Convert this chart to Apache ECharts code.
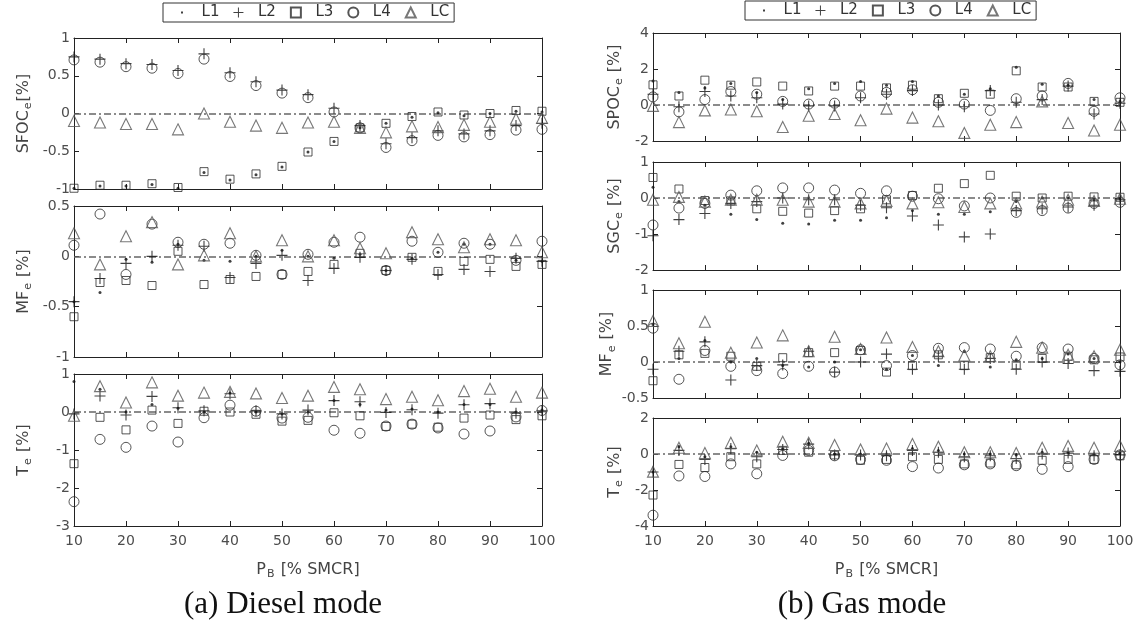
<!DOCTYPE html>
<html>
<head>
<meta charset="utf-8">
<script src="https://cdn.jsdelivr.net/npm/echarts@6/dist/echarts.min.js"></script>
<style>
  html, body { margin: 0; padding: 0; background: #fff; }
  #main { width: 1141px; height: 635px; }
</style>
</head>
<body>
<div id="main"></div>
<script>
// engine load points, % SMCR
var load = [10, 15, 20, 25, 30, 35, 40, 45, 50, 55, 60, 65, 70, 75, 80, 85, 90, 95, 100];

// (a) diesel mode
var sfocL1 = [-0.99, -0.96, -0.96, -0.94, -0.99, -0.78, -0.88, -0.81, -0.71, -0.51, -0.37, -0.19, -0.13, -0.05, 0.01, -0.03, 0.0, 0.03, 0.02];
var sfocL2 = [0.75, 0.72, 0.66, 0.65, 0.57, 0.79, 0.54, 0.42, 0.31, 0.25, 0.07, -0.16, -0.40, -0.32, -0.23, -0.27, -0.23, -0.16, -0.13];
var sfocL3 = [-0.99, -0.95, -0.95, -0.93, -0.98, -0.77, -0.87, -0.80, -0.70, -0.51, -0.37, -0.19, -0.13, -0.04, 0.02, -0.02, 0.0, 0.04, 0.03];
var sfocL4 = [0.71, 0.68, 0.62, 0.60, 0.53, 0.72, 0.49, 0.37, 0.27, 0.21, 0.02, -0.19, -0.45, -0.36, -0.29, -0.31, -0.28, -0.22, -0.21];
var sfocLC = [-0.10, -0.12, -0.14, -0.14, -0.21, 0.0, -0.11, -0.16, -0.19, -0.12, -0.11, -0.19, -0.25, -0.17, -0.18, -0.15, -0.11, -0.07, -0.06];

var mfdL1 = [-0.45, -0.36, -0.03, -0.06, 0.12, -0.04, -0.05, 0.0, 0.06, 0.0, -0.02, 0.02, -0.14, -0.02, 0.04, 0.12, 0.12, -0.04, -0.05];
var mfdL2 = [-0.45, -0.22, -0.07, 0.0, 0.11, 0.10, -0.21, -0.07, 0.01, -0.24, -0.12, -0.01, -0.14, -0.03, -0.18, -0.13, -0.15, -0.02, -0.05];
var mfdL3 = [-0.60, -0.26, -0.24, -0.29, 0.05, -0.28, -0.23, -0.20, -0.18, -0.15, -0.08, 0.03, -0.14, -0.01, -0.15, -0.05, -0.03, -0.10, -0.08];
var mfdL4 = [0.11, 0.42, -0.18, 0.32, 0.14, 0.12, 0.13, 0.01, -0.18, 0.02, 0.14, 0.19, -0.14, 0.15, 0.04, 0.13, 0.12, -0.04, 0.15];
var mfdLC = [0.23, -0.08, 0.20, 0.34, -0.08, 0.01, 0.23, 0.0, 0.16, 0.0, 0.16, 0.08, 0.03, 0.24, 0.17, 0.09, 0.17, 0.16, 0.04];

var tdL1 = [0.8, 0.6, 0.0, 0.2, 0.1, 0.0, 0.5, 0.0, -0.05, 0.0, 0.3, 0.2, 0.05, 0.08, 0.0, 0.2, 0.2, 0.0, 0.05];
var tdL2 = [-0.05, 0.42, -0.08, 0.41, 0.11, 0.03, 0.48, 0.03, -0.05, 0.05, 0.30, 0.27, -0.01, 0.06, -0.03, 0.19, 0.22, -0.03, 0.03];
var tdL3 = [-1.36, -0.14, -0.47, 0.05, -0.30, 0.02, 0.0, -0.06, -0.24, -0.22, -0.02, -0.10, -0.38, -0.32, -0.40, -0.16, -0.08, -0.20, -0.10];
var tdL4 = [-2.36, -0.72, -0.93, -0.37, -0.79, -0.15, 0.18, 0.02, -0.16, -0.14, -0.48, -0.56, -0.37, -0.32, -0.42, -0.58, -0.50, -0.13, 0.04];
var tdLC = [-0.10, 0.68, 0.25, 0.78, 0.43, 0.51, 0.53, 0.49, 0.37, 0.43, 0.66, 0.60, 0.34, 0.40, 0.31, 0.55, 0.61, 0.40, 0.51];

// (b) gas mode
var spocL1 = [1.33, 0.7, 0.95, 1.2, 0.7, 0.3, 0.9, 1.2, 1.3, 1.1, 1.3, 0.5, 0.6, 0.9, 2.1, 1.15, 1.1, 0.3, 0.2];
var spocL2 = [0.6, -0.1, 0.75, 0.5, 0.4, 0.05, -0.05, -0.05, 0.4, 0.6, 0.8, 0.0, -0.1, 0.8, 0.15, 0.3, 1.05, -0.5, 0.1];
var spocL3 = [1.12, 0.5, 1.38, 1.1, 1.28, 1.05, 0.78, 1.05, 1.05, 0.95, 1.1, 0.35, 0.65, 0.6, 1.9, 1.0, 1.0, 0.2, 0.15];
var spocL4 = [0.45, -0.38, 0.3, 0.75, 0.6, 0.2, 0.05, 0.1, 0.5, 0.7, 0.85, 0.15, 0.05, -0.3, 0.35, 0.5, 1.2, -0.35, 0.4];
var spocLC = [-0.05, -0.95, -0.3, -0.25, -0.35, -1.22, -0.6, -0.5, -0.85, -0.2, -0.7, -0.9, -1.55, -1.1, -0.95, 0.2, -1.0, -1.42, -1.1];

var sgcL1 = [0.3, -0.1, -0.2, -0.45, -0.6, -0.7, -0.72, -0.62, -0.62, -0.55, -0.35, -0.45, -0.45, -0.38, -0.1, 0.0, 0.0, -0.05, -0.02];
var sgcL2 = [-1.05, -0.6, -0.43, -0.15, -0.1, 0.0, -0.05, -0.05, -0.2, -0.27, -0.5, -0.75, -1.08, -1.0, -0.35, -0.3, -0.25, -0.2, -0.05];
var sgcL3 = [0.57, 0.25, -0.07, -0.08, -0.3, -0.37, -0.42, -0.35, -0.3, -0.05, 0.07, 0.27, 0.4, 0.63, 0.05, 0.0, 0.05, 0.03, 0.02];
var sgcL4 = [-0.75, -0.28, -0.15, 0.08, 0.2, 0.28, 0.28, 0.22, 0.13, 0.2, 0.05, -0.02, -0.22, 0.0, -0.4, -0.35, -0.28, -0.15, -0.12];
var sgcLC = [-0.05, 0.03, -0.1, -0.05, -0.05, -0.05, -0.1, -0.1, -0.15, -0.08, -0.15, -0.12, -0.25, -0.15, -0.15, -0.1, -0.05, -0.08, -0.02];

var mfgL1 = [0.52, 0.05, 0.3, 0.0, 0.05, -0.05, -0.07, 0.0, 0.17, -0.1, 0.09, -0.05, 0.15, -0.07, 0.03, 0.05, 0.11, 0.05, 0.0];
var mfgL2 = [-0.1, 0.15, 0.28, -0.25, -0.05, -0.04, 0.15, -0.14, 0.0, 0.11, -0.1, 0.08, -0.1, 0.05, -0.1, 0.0, -0.02, -0.12, -0.13];
var mfgL3 = [-0.26, 0.1, 0.12, 0.08, -0.06, 0.06, 0.13, 0.13, 0.16, -0.14, -0.05, 0.1, -0.05, 0.06, -0.04, 0.05, 0.08, 0.03, 0.07];
var mfgL4 = [0.47, -0.24, 0.16, -0.06, -0.12, -0.16, -0.06, -0.14, 0.17, -0.05, 0.09, 0.19, 0.2, 0.18, 0.08, 0.2, 0.18, 0.05, -0.04];
var mfgLC = [0.57, 0.26, 0.56, 0.13, 0.27, 0.37, 0.15, 0.35, 0.18, 0.34, 0.21, 0.15, 0.09, 0.08, 0.28, 0.2, 0.1, 0.08, 0.17];

var tgL1 = [-1.0, 0.4, -0.15, 0.4, 0.1, 0.3, 0.6, 0.0, 0.0, 0.0, 0.3, 0.2, 0.0, 0.0, -0.05, 0.1, 0.1, 0.0, 0.05];
var tgL2 = [-1.0, 0.2, -0.3, 0.3, -0.15, 0.25, 0.55, -0.05, -0.05, -0.1, 0.2, 0.1, -0.15, -0.1, -0.25, 0.0, 0.05, -0.1, -0.05];
var tgL3 = [-2.28, -0.58, -0.75, -0.15, -0.55, 0.2, 0.1, -0.05, -0.35, -0.3, -0.15, -0.3, -0.55, -0.5, -0.6, -0.35, -0.3, -0.3, -0.1];
var tgL4 = [-3.4, -1.22, -1.25, -0.55, -1.1, -0.08, 0.2, -0.1, -0.3, -0.35, -0.7, -0.78, -0.6, -0.55, -0.65, -0.85, -0.7, -0.3, -0.05];
var tgLC = [-0.98, 0.35, 0.05, 0.62, 0.2, 0.68, 0.62, 0.5, 0.25, 0.3, 0.55, 0.4, 0.1, 0.1, 0.05, 0.35, 0.45, 0.35, 0.45];

var seriesNames = ['L1', 'L2', 'L3', 'L4', 'LC'];

// marker looks (matlab style: dot, plus, square, circle, triangle)
var plusPath = 'path://M4.5,0h1v4.5h4.5v1h-4.5v4.5h-1v-4.5h-4.5v-1h4.5z';
var dotIcon = 'path://M0,0M10,10M4,4h2v2h-2z';
var markers = [
    { symbol: 'circle', size: 3, itemStyle: { color: '#111' } },
    { symbol: plusPath, size: 11, itemStyle: { color: '#111' } },
    { symbol: 'rect', size: 8, itemStyle: { color: 'transparent', borderColor: '#2a2a2a', borderWidth: 1 } },
    { symbol: 'circle', size: 10, itemStyle: { color: 'transparent', borderColor: '#2a2a2a', borderWidth: 1 } },
    { symbol: 'triangle', size: 11, itemStyle: { color: 'transparent', borderColor: '#555', borderWidth: 1.1 } }
];

var panels = [
    { label: 'SFOC', gap: '', min: -1, max: 1, step: 0.5, left: 74, top: 38, width: 468, height: 151, bottom: false, data: [sfocL1, sfocL2, sfocL3, sfocL4, sfocLC] },
    { label: 'MF', gap: ' ', min: -1, max: 0.5, step: 0.5, left: 74, top: 206, width: 468, height: 151, bottom: false, data: [mfdL1, mfdL2, mfdL3, mfdL4, mfdLC] },
    { label: 'T', gap: ' ', min: -3, max: 1, step: 1, left: 74, top: 374, width: 468, height: 152, bottom: true, data: [tdL1, tdL2, tdL3, tdL4, tdLC] },
    { label: 'SPOC', gap: ' ', min: -2, max: 4, step: 2, left: 653, top: 33, width: 467, height: 108, bottom: false, data: [spocL1, spocL2, spocL3, spocL4, spocLC] },
    { label: 'SGC', gap: ' ', min: -2, max: 1, step: 1, left: 653, top: 162, width: 467, height: 108, bottom: false, data: [sgcL1, sgcL2, sgcL3, sgcL4, sgcLC] },
    { label: 'MF', gap: ' ', min: -0.5, max: 1, step: 0.5, left: 653, top: 290, width: 467, height: 108, bottom: false, data: [mfgL1, mfgL2, mfgL3, mfgL4, mfgLC] },
    { label: 'T', gap: ' ', min: -4, max: 2, step: 2, left: 653, top: 418, width: 467, height: 108, bottom: true, data: [tgL1, tgL2, tgL3, tgL4, tgLC] }
];

var axisColor = '#222';
var labelColor = '#4d4d4d';
var nameRich = {
    t: { fontSize: 16, color: '#444', fontFamily: 'DejaVu Sans' },
    s: { fontSize: 11, color: '#444', fontFamily: 'DejaVu Sans', padding: [10, 1, 0, 1] }
};

var option = {
    animation: false,
    backgroundColor: '#fff',
    textStyle: { fontFamily: 'DejaVu Sans' },
    legend: [],
    grid: [],
    xAxis: [],
    yAxis: [],
    series: [],
    graphic: [
        { type: 'text', x: 283, y: 605, style: { text: '(a) Diesel mode', font: '31px "Liberation Serif"', fill: '#111', align: 'center', verticalAlign: 'middle' } },
        { type: 'text', x: 862, y: 605, style: { text: '(b) Gas mode', font: '31px "Liberation Serif"', fill: '#111', align: 'center', verticalAlign: 'middle' } }
    ]
};

var legendData = seriesNames.map(function (n, k) {
    return k === 0 ? { name: n, icon: dotIcon } : { name: n };
});
[{ left: 163, top: 3 }, { left: 745, top: 1 }].forEach(function (pos) {
    option.legend.push({
        left: pos.left, top: pos.top,
        orient: 'horizontal',
        padding: [2, 5, 2, 14],
        itemGap: 14,
        itemWidth: 10,
        itemHeight: 10,
        borderColor: '#333',
        borderWidth: 1,
        borderRadius: 0,
        selectedMode: false,
        formatter: function (n) { return '  ' + n; },
        textStyle: { fontSize: 15, color: '#333' },
        data: legendData
    });
});

panels.forEach(function (p, i) {
    option.grid.push({ left: p.left, top: p.top, width: p.width, height: p.height });

    option.xAxis.push({
        gridIndex: i, type: 'value', position: 'bottom',
        min: 10, max: 100, interval: 10,
        axisLine: { onZero: false, lineStyle: { color: axisColor, width: 1 } },
        axisTick: { inside: true, length: 5, lineStyle: { color: axisColor } },
        axisLabel: { show: p.bottom, color: labelColor, fontSize: 14, margin: 8 },
        splitLine: { show: false },
        name: p.bottom ? '{t|P}{s|B}{t| [% SMCR]}' : '',
        nameLocation: 'middle', nameGap: 33,
        nameTextStyle: { rich: nameRich }
    });
    option.xAxis.push({
        gridIndex: i, type: 'value', position: 'top',
        min: 10, max: 100, interval: 10,
        axisLine: { onZero: false, lineStyle: { color: axisColor, width: 1 } },
        axisTick: { inside: true, length: 5, lineStyle: { color: axisColor } },
        axisLabel: { show: false },
        splitLine: { show: false }
    });
    option.yAxis.push({
        gridIndex: i, type: 'value', position: 'left',
        min: p.min, max: p.max, interval: p.step,
        axisLine: { onZero: false, lineStyle: { color: axisColor, width: 1 } },
        axisTick: { inside: true, length: 5, lineStyle: { color: axisColor } },
        axisLabel: { color: labelColor, fontSize: 14, margin: 4 },
        splitLine: { show: false },
        name: '{t|' + p.label + '}{s|e}{t|' + p.gap + '[%]}',
        nameLocation: 'middle', nameRotate: 90,
        nameGap: i < 3 ? 40 : 28,
        nameTextStyle: { rich: nameRich }
    });
    option.yAxis.push({
        gridIndex: i, type: 'value', position: 'right',
        min: p.min, max: p.max, interval: p.step,
        axisLine: { onZero: false, lineStyle: { color: axisColor, width: 1 } },
        axisTick: { inside: true, length: 5, lineStyle: { color: axisColor } },
        axisLabel: { show: false },
        splitLine: { show: false }
    });

    p.data.forEach(function (vals, k) {
        var m = markers[k];
        var s = {
            name: seriesNames[k],
            type: 'scatter',
            xAxisIndex: i * 2,
            yAxisIndex: i * 2,
            symbol: m.symbol,
            symbolSize: m.size,
            itemStyle: m.itemStyle,
            emphasis: { disabled: true },
            data: load.map(function (x, j) { return [x, vals[j]]; })
        };
        if (k === 0) {
            s.markLine = {
                silent: true, symbol: 'none', z: 1,
                label: { show: false },
                lineStyle: { color: '#666', type: [7, 3, 2, 3], width: 1.5 },
                data: [{ yAxis: 0 }]
            };
        }
        option.series.push(s);
    });
});

var chart = echarts.init(document.getElementById('main'));
chart.setOption(option);
</script>
</body>
</html>
